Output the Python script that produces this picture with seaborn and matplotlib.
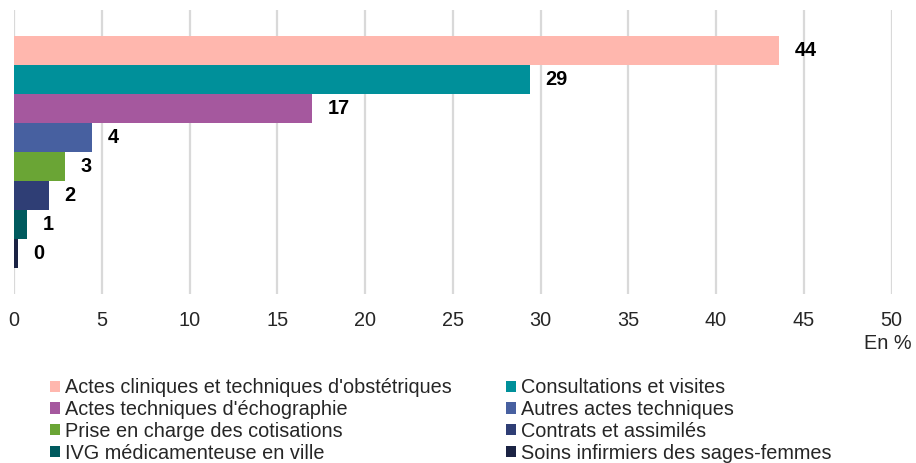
import matplotlib
matplotlib.use("Agg")
import matplotlib.pyplot as plt
import seaborn as sns
import pandas as pd

# Share of each activity in midwives' fees (%)
categories = [
    "Actes cliniques et techniques d'obstétriques",
    "Consultations et visites",
    "Actes techniques d'échographie",
    "Autres actes techniques",
    "Prise en charge des cotisations",
    "Contrats et assimilés",
    "IVG médicamenteuse en ville",
    "Soins infirmiers des sages-femmes",
]
values = [43.6, 29.4, 17.0, 4.45, 2.9, 2.0, 0.75, 0.2]
colors = ["#FFB7AE", "#00909A", "#A5589E", "#4760A0", "#6AA535",
          "#2F3E75", "#005A5E", "#1B2344"]
x_ticks = [0, 5, 10, 15, 20, 25, 30, 35, 40, 45, 50]

df = pd.DataFrame({"groupe": ["" for _ in categories],
                   "poste": categories, "valeur": values})

sns.set_theme(style="white")
plt.rcParams["font.family"] = ["Liberation Sans", "DejaVu Sans"]

FS = 14.3

fig = plt.figure(figsize=(9.16, 4.63), dpi=100)
ax = fig.add_axes([0.0153, 0.365, 0.958, 0.6135])

sns.barplot(data=df, x="valeur", y="groupe", hue="poste",
            hue_order=categories, palette=colors, orient="h",
            width=0.82, dodge=True, legend=True, ax=ax,
            linewidth=0, saturation=1)

for cont in ax.containers:
    ax.bar_label(cont, labels=[f"{v:.0f}" for v in cont.datavalues],
                 padding=11, fontsize=FS, fontweight="bold", color="black")

ax.set_xlim(0, 50)
ax.set_xticks(x_ticks)
ax.set_xticklabels([str(t) for t in x_ticks], fontsize=FS)
ax.tick_params(axis="x", length=0, pad=12)
ax.tick_params(axis="y", left=False, labelleft=False)
ax.set_xlabel("")
ax.set_ylabel("")
ax.grid(axis="x", color="#D9D9D9", linewidth=1.6)
ax.set_axisbelow(True)
for s in ax.spines.values():
    s.set_visible(False)

fig.text(0.9956, 0.259, "En %", ha="right", va="center", fontsize=FS)

handles, labels = ax.get_legend_handles_labels()
ax.legend_.remove()
order = [0, 2, 4, 6, 1, 3, 5, 7]
fig.legend([handles[i] for i in order], [labels[i] for i in order],
           ncol=2, loc="upper left", bbox_to_anchor=(0.0546, 0.183),
           frameon=False, fontsize=FS, handlelength=0.48, handleheight=0.48,
           handletextpad=0.25, columnspacing=2.77, labelspacing=0.14,
           borderpad=0, borderaxespad=0)

fig.savefig("out.png", dpi=100)
